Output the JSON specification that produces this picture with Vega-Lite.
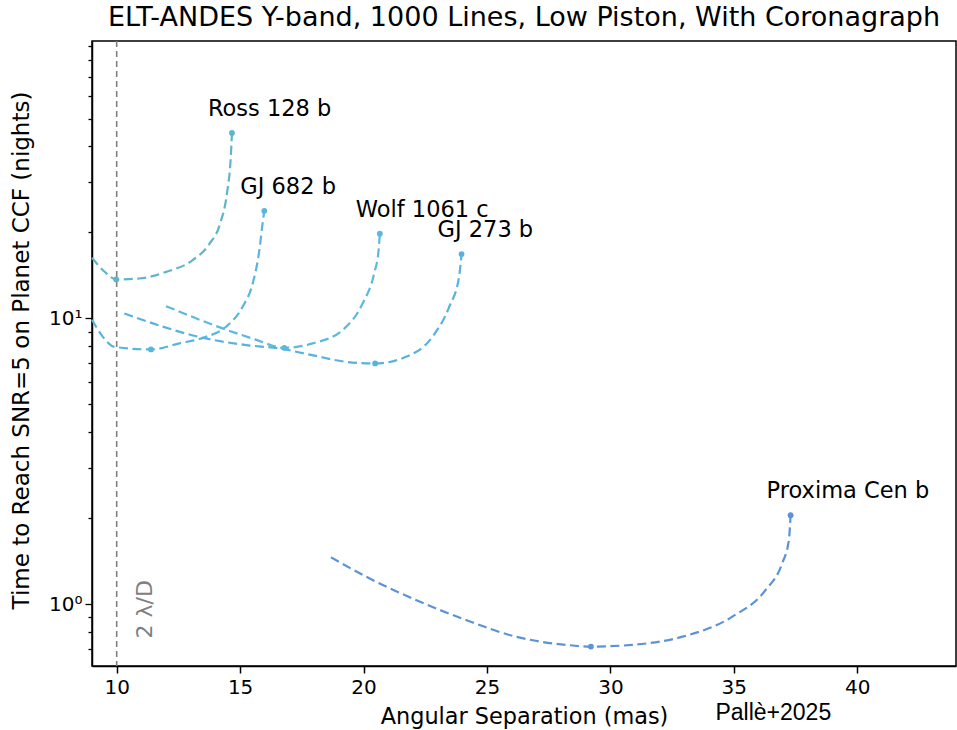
{
  "$schema": "https://vega.github.io/schema/vega-lite/v6.json",
  "autosize": {"type": "none"},
  "width": 864,
  "height": 625,
  "padding": {"left": 92, "top": 41, "right": 1, "bottom": 64},
  "background": "white",
  "title": {
    "text": "ELT-ANDES Y-band, 1000 Lines, Low Piston, With Coronagraph",
    "font": "DejaVu Sans",
    "fontSize": 27,
    "fontWeight": "normal",
    "color": "black",
    "offset": 4
  },
  "config": {
    "view": {"stroke": "black", "strokeWidth": 1.5},
    "font": "DejaVu Sans"
  },
  "datasets": {
    "curves": [
      {"planet": "Ross 128 b", "x": 9.0, "y": 16.3, "kind": ""},
      {"planet": "Ross 128 b", "x": 9.5, "y": 14.6, "kind": ""},
      {"planet": "Ross 128 b", "x": 9.98, "y": 13.7, "kind": "min"},
      {"planet": "Ross 128 b", "x": 10.92, "y": 13.8, "kind": ""},
      {"planet": "Ross 128 b", "x": 12.0, "y": 14.55, "kind": ""},
      {"planet": "Ross 128 b", "x": 13.08, "y": 16.0, "kind": ""},
      {"planet": "Ross 128 b", "x": 13.75, "y": 18.2, "kind": ""},
      {"planet": "Ross 128 b", "x": 14.2, "y": 21.6, "kind": ""},
      {"planet": "Ross 128 b", "x": 14.47, "y": 27.5, "kind": ""},
      {"planet": "Ross 128 b", "x": 14.62, "y": 36.5, "kind": ""},
      {"planet": "Ross 128 b", "x": 14.67, "y": 44.6, "kind": "end"},

      {"planet": "GJ 682 b", "x": 9.0, "y": 9.9, "kind": ""},
      {"planet": "GJ 682 b", "x": 9.45, "y": 8.6, "kind": ""},
      {"planet": "GJ 682 b", "x": 9.91, "y": 7.95, "kind": ""},
      {"planet": "GJ 682 b", "x": 11.39, "y": 7.79, "kind": "min"},
      {"planet": "GJ 682 b", "x": 12.54, "y": 8.18, "kind": ""},
      {"planet": "GJ 682 b", "x": 13.62, "y": 8.62, "kind": ""},
      {"planet": "GJ 682 b", "x": 14.43, "y": 9.35, "kind": ""},
      {"planet": "GJ 682 b", "x": 15.1, "y": 10.98, "kind": ""},
      {"planet": "GJ 682 b", "x": 15.51, "y": 13.26, "kind": ""},
      {"planet": "GJ 682 b", "x": 15.78, "y": 17.33, "kind": ""},
      {"planet": "GJ 682 b", "x": 15.91, "y": 21.5, "kind": ""},
      {"planet": "GJ 682 b", "x": 15.98, "y": 23.8, "kind": "end"},

      {"planet": "Wolf 1061 c", "x": 12.0, "y": 11.04, "kind": ""},
      {"planet": "Wolf 1061 c", "x": 14.29, "y": 9.23, "kind": ""},
      {"planet": "Wolf 1061 c", "x": 15.6, "y": 8.45, "kind": ""},
      {"planet": "Wolf 1061 c", "x": 16.79, "y": 7.89, "kind": "min"},
      {"planet": "Wolf 1061 c", "x": 17.94, "y": 8.18, "kind": ""},
      {"planet": "Wolf 1061 c", "x": 19.15, "y": 9.1, "kind": ""},
      {"planet": "Wolf 1061 c", "x": 19.96, "y": 11.28, "kind": ""},
      {"planet": "Wolf 1061 c", "x": 20.43, "y": 14.37, "kind": ""},
      {"planet": "Wolf 1061 c", "x": 20.61, "y": 17.33, "kind": ""},
      {"planet": "Wolf 1061 c", "x": 20.66, "y": 19.8, "kind": "end"},

      {"planet": "GJ 273 b", "x": 10.31, "y": 10.41, "kind": ""},
      {"planet": "GJ 273 b", "x": 13.62, "y": 8.51, "kind": ""},
      {"planet": "GJ 273 b", "x": 15.24, "y": 8.07, "kind": ""},
      {"planet": "GJ 273 b", "x": 16.59, "y": 7.85, "kind": ""},
      {"planet": "GJ 273 b", "x": 17.92, "y": 7.44, "kind": ""},
      {"planet": "GJ 273 b", "x": 19.29, "y": 7.05, "kind": ""},
      {"planet": "GJ 273 b", "x": 20.47, "y": 6.96, "kind": "min"},
      {"planet": "GJ 273 b", "x": 21.72, "y": 7.34, "kind": ""},
      {"planet": "GJ 273 b", "x": 22.79, "y": 8.62, "kind": ""},
      {"planet": "GJ 273 b", "x": 23.47, "y": 10.98, "kind": ""},
      {"planet": "GJ 273 b", "x": 23.87, "y": 13.98, "kind": ""},
      {"planet": "GJ 273 b", "x": 23.97, "y": 16.8, "kind": "end"},

      {"planet": "Proxima Cen b", "x": 18.68, "y": 1.46, "kind": ""},
      {"planet": "Proxima Cen b", "x": 20.1, "y": 1.249, "kind": ""},
      {"planet": "Proxima Cen b", "x": 22.12, "y": 1.035, "kind": ""},
      {"planet": "Proxima Cen b", "x": 24.15, "y": 0.881, "kind": ""},
      {"planet": "Proxima Cen b", "x": 26.17, "y": 0.77, "kind": ""},
      {"planet": "Proxima Cen b", "x": 28.19, "y": 0.721, "kind": ""},
      {"planet": "Proxima Cen b", "x": 29.21, "y": 0.711, "kind": "min"},
      {"planet": "Proxima Cen b", "x": 30.89, "y": 0.721, "kind": ""},
      {"planet": "Proxima Cen b", "x": 32.92, "y": 0.77, "kind": ""},
      {"planet": "Proxima Cen b", "x": 34.94, "y": 0.905, "kind": ""},
      {"planet": "Proxima Cen b", "x": 36.29, "y": 1.122, "kind": ""},
      {"planet": "Proxima Cen b", "x": 36.96, "y": 1.391, "kind": ""},
      {"planet": "Proxima Cen b", "x": 37.23, "y": 1.678, "kind": ""},
      {"planet": "Proxima Cen b", "x": 37.3, "y": 2.05, "kind": "end"}
    ],
    "notes": [
      {"x": 11.13, "y": 0.96, "label": "2 λ/D"}
    ],
    "credit": [
      {"x": 36.6, "y": 0.417, "label": "Pallè+2025"}
    ],
    "lod": [
      {"x": 10}
    ]
  },
  "data": {"name": "curves"},
  "encoding": {
    "x": {
      "field": "x", "type": "quantitative",
      "scale": {"domain": [9, 44], "nice": false, "zero": false},
      "axis": {
        "title": "Angular Separation (mas)",
        "values": [10, 15, 20, 25, 30, 35, 40],
        "grid": false,
        "domainColor": "black", "domainWidth": 1.5,
        "tickColor": "black", "tickWidth": 1.5, "tickSize": 7,
        "labelFont": "DejaVu Sans", "labelFontSize": 20, "labelColor": "black", "labelPadding": 4,
        "labelFlush": false,
        "titleFont": "DejaVu Sans", "titleFontSize": 22.4, "titleFontWeight": "normal", "titleColor": "black",
        "titleX": 432, "titleY": 50, "titleBaseline": "middle", "titleAlign": "center"
      }
    },
    "y": {
      "field": "y", "type": "quantitative",
      "scale": {"type": "log", "domain": [0.608, 93.5], "nice": false},
      "axis": {
        "title": "Time to Reach SNR=5 on Planet CCF (nights)",
        "values": [0.7, 0.8, 0.9, 1, 2, 3, 4, 5, 6, 7, 8, 9, 10, 20, 30, 40, 50, 60, 70, 80, 90],
        "labelExpr": "datum.value == 1 ? '10⁰' : (datum.value == 10 ? '10¹' : '')",
        "grid": false,
        "domainColor": "black", "domainWidth": 1.5,
        "tickColor": "black", "tickWidth": 1.3,
        "tickSize": {"condition": {"test": "datum.value == 1 || datum.value == 10", "value": 7}, "value": 4},
        "labelFont": "DejaVu Sans", "labelFontSize": 20, "labelColor": "black", "labelPadding": 3,
        "labelFlush": false, "labelOverlap": false,
        "titleFont": "DejaVu Sans", "titleFontSize": 23, "titleFontWeight": "normal", "titleColor": "black",
        "titleAngle": 270, "titleX": -71, "titleY": 309, "titleBaseline": "middle", "titleAlign": "center"
      }
    }
  },
  "layer": [
    {
      "data": {"name": "lod"},
      "mark": {"type": "rule", "color": "#808080", "strokeWidth": 1.6, "strokeDash": [6, 4]},
      "encoding": {"x": {"field": "x", "type": "quantitative"}, "y": null}
    },
    {
      "mark": {"type": "line", "strokeWidth": 2.2, "strokeDash": [9, 4.5], "interpolate": "monotone"},
      "encoding": {
        "color": {
          "field": "planet", "type": "nominal", "legend": null,
          "scale": {
            "domain": ["Ross 128 b", "GJ 682 b", "Wolf 1061 c", "GJ 273 b", "Proxima Cen b"],
            "range": ["#60b6c9", "#57b6de", "#5cb9dc", "#58b2df", "#5b93d8"]
          }
        }
      }
    },
    {
      "transform": [{"filter": "datum.kind != ''"}],
      "mark": {"type": "circle", "size": 34, "opacity": 1},
      "encoding": {
        "color": {"field": "planet", "type": "nominal", "legend": null}
      }
    },
    {
      "transform": [{"filter": "datum.kind == 'end'"}],
      "mark": {"type": "text", "align": "left", "baseline": "middle", "dx": -24, "dy": -24, "font": "DejaVu Sans", "fontSize": 22.5, "color": "black"},
      "encoding": {"text": {"field": "planet"}}
    },
    {
      "data": {"name": "notes"},
      "mark": {"type": "text", "angle": 270, "align": "center", "baseline": "middle", "font": "DejaVu Sans", "fontSize": 22, "color": "#808080"},
      "encoding": {"text": {"field": "label"}}
    },
    {
      "data": {"name": "credit"},
      "mark": {"type": "text", "align": "center", "baseline": "middle", "font": "Liberation Sans", "fontSize": 23, "color": "black"},
      "encoding": {"text": {"field": "label"}}
    }
  ]
}
